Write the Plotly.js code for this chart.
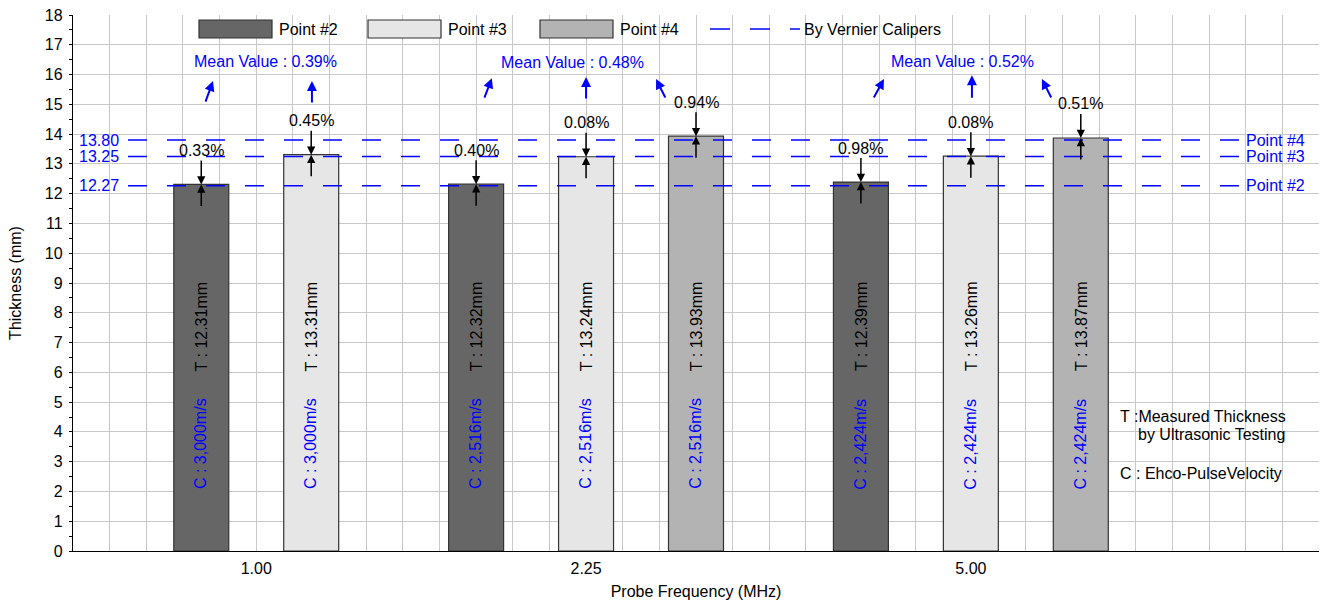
<!DOCTYPE html>
<html>
<head>
<meta charset="utf-8">
<script src="https://cdn.plot.ly/plotly-3.0.1.min.js"></script>
<style>html,body{margin:0;padding:0;background:#fff;}#chart{width:1325px;height:603px;}</style>
</head>
<body>
<div id="chart"></div>
<script>
// ---------------- DATA ----------------
const categories = ['1.00', '2.25', '5.00'];          // Probe frequency (MHz)
const seriesNames = ['Point #2', 'Point #3', 'Point #4'];
const point2 = [12.31, 12.32, 12.39];                 // measured thickness T (mm)
const point3 = [13.31, 13.24, 13.26];
const point4 = [null, 13.93, 13.87];
const dev2 = [0.33, 0.40, 0.98];                      // deviation from vernier (%)
const dev3 = [0.45, 0.08, 0.08];
const dev4 = [null, 0.94, 0.51];
const velocity = ['3,000', '2,516', '2,424'];         // echo-pulse velocity C (m/s)
const meanValues = [0.39, 0.48, 0.52];                // mean deviation (%)
const vernierValues = [12.27, 13.25, 13.80];          // by vernier calipers (mm)
const vernierNames = ['Point #2', 'Point #3', 'Point #4'];
const yTickLabels = ['0','1','2','3','4','5','6','7','8','9','10','11','12','13','14','15','16','17','18'];

// ---------------- LAYOUT / STYLE ----------------
const FONT = 'Liberation Sans, Arial, Helvetica, sans-serif';
const colors = ['#666666', '#e6e6e6', '#b3b3b3'];
const BLUE = '#0000ff';
const L = 73, R = 1319, T = 15, B = 551;
const X_MAX = 34;                     // x scale: grid units
const groupCenters = [5, 14, 24.5];
const barStep = 3, barWidth = 1.5;
const pxX = p => (p - L) / (R - L);
const pxY = p => (B - p) / (B - T);

const values = [point2, point3, point4];
const devs = [dev2, dev3, dev4];

// bar positions
const xs = values.map(() => categories.map(() => null));
categories.forEach((c, g) => {
  const present = values.map((v, s) => v[g] != null ? s : -1).filter(s => s >= 0);
  present.forEach((s, k) => {
    xs[s][g] = groupCenters[g] + (k - (present.length - 1) / 2) * barStep;
  });
});

const traces = [];
values.forEach((v, s) => {
  traces.push({
    type: 'bar', name: seriesNames[s],
    x: xs[s], y: v, width: barWidth,
    marker: {color: colors[s], line: {color: '#333333', width: 1.2}},
    showlegend: false, hoverinfo: 'skip'
  });
});
// vernier lines
vernierValues.forEach((v, i) => {
  traces.push({
    type: 'scatter', mode: 'lines', name: 'By Vernier Calipers',
    x: [1.5, 32.03], y: [v, v],
    line: {color: BLUE, width: 1.5, dash: '19px,20px'},
    showlegend: false, hoverinfo: 'skip'
  });
});
// dummy trace for the category axis
traces.push({type: 'scatter', x: [], y: [], xaxis: 'x2', yaxis: 'y', showlegend: false, hoverinfo: 'skip'});

const annotations = [];
const shapes = [];
const txt = (o) => Object.assign({showarrow: false, yanchor: 'middle', xanchor: 'center',
  font: {family: FONT, size: 16, color: '#000'}}, o);

// per-bar annotations
values.forEach((v, s) => {
  categories.forEach((c, g) => {
    if (v[g] == null) return;
    const x = xs[s][g];
    annotations.push({x: x, y: v[g], xref: 'x', yref: 'y', text: devs[s][g].toFixed(2) + '%',
      showarrow: true, ax: 0, ay: -34, arrowhead: 2, arrowsize: 1.1, arrowwidth: 1.5, arrowcolor: '#000',
      font: {family: FONT, size: 16, color: '#000'}});
    annotations.push({x: x, y: v[g], xref: 'x', yref: 'y', text: '',
      showarrow: true, ax: 0, ay: 23, arrowhead: 2, arrowsize: 1.1, arrowwidth: 1.5, arrowcolor: '#000'});
    annotations.push(txt({x: x, y: 7.55, xref: 'x', yref: 'y', text: 'T : ' + v[g].toFixed(2) + 'mm', textangle: -90}));
    annotations.push(txt({x: x, y: 3.6, xref: 'x', yref: 'y', text: 'C : ' + velocity[g] + 'm/s', textangle: -90,
      font: {family: FONT, size: 16, color: BLUE}}));
  });
});

// mean-value labels and arrows
const meanLabelPos = [[5.25, 16.45], [13.64, 16.42], [24.28, 16.45]];
const meanArrows = [
  [[3.82, 15.78, -8, 22], [6.52, 15.78, 0, 23]],
  [[11.43, 15.88, -8, 21], [14.0, 15.92, 0, 23], [15.91, 15.85, 10, 20]],
  [[22.13, 15.85, -11, 20], [24.53, 15.98, 0, 24], [26.44, 15.85, 10, 20]]
];
meanValues.forEach((m, g) => {
  annotations.push(txt({x: meanLabelPos[g][0], y: meanLabelPos[g][1], xref: 'x', yref: 'y',
    text: 'Mean Value : ' + m.toFixed(2) + '%', font: {family: FONT, size: 16, color: BLUE}}));
  meanArrows[g].forEach(a => {
    annotations.push({x: a[0], y: a[1], xref: 'x', yref: 'y', text: '', showarrow: true,
      ax: a[2], ay: a[3], arrowhead: 2, arrowsize: 1, arrowwidth: 2, arrowcolor: BLUE});
  });
});

// vernier labels
vernierValues.forEach((v, i) => {
  annotations.push(txt({x: pxX(77), y: v, xref: 'paper', yref: 'y', xanchor: 'left',
    text: v.toFixed(2), font: {family: FONT, size: 16, color: BLUE}}));
  annotations.push(txt({x: 31.95, y: v, xref: 'x', yref: 'y', xanchor: 'left',
    text: vernierNames[i], font: {family: FONT, size: 16, color: BLUE}}));
});

// notes
annotations.push(txt({x: pxX(1118), y: pxY(416), xref: 'paper', yref: 'paper', xanchor: 'left', text: 'T :Measured Thickness'}));
annotations.push(txt({x: pxX(1136), y: pxY(434), xref: 'paper', yref: 'paper', xanchor: 'left', text: 'by Ultrasonic Testing'}));
annotations.push(txt({x: pxX(1118), y: pxY(473), xref: 'paper', yref: 'paper', xanchor: 'left', text: 'C : Ehco-PulseVelocity'}));

// custom legend
const legendSwatchLeft = [199, 368, 540];
const swatchW = 73, legTop = 20, legBot = 38, legMid = 29;
seriesNames.forEach((n, s) => {
  const x0 = legendSwatchLeft[s];
  shapes.push({type: 'rect', xref: 'paper', yref: 'paper', x0: pxX(x0), x1: pxX(x0 + swatchW),
    y0: pxY(legBot), y1: pxY(legTop), fillcolor: colors[s], line: {color: '#333333', width: 1.2}});
  annotations.push(txt({x: pxX(x0 + swatchW + 5), y: pxY(legMid), xref: 'paper', yref: 'paper', xanchor: 'left', text: n}));
});
shapes.push({type: 'line', xref: 'paper', yref: 'paper', x0: pxX(710), x1: pxX(800), y0: pxY(legMid), y1: pxY(legMid),
  line: {color: BLUE, width: 1.5, dash: '20px,20px'}});
annotations.push(txt({x: pxX(802), y: pxY(legMid), xref: 'paper', yref: 'paper', xanchor: 'left', text: 'By Vernier Calipers'}));

const layout = {
  width: 1325, height: 603,
  margin: {l: L, r: 1325 - R, t: T, b: 603 - B, pad: 0},
  paper_bgcolor: '#fff', plot_bgcolor: '#fff',
  font: {family: FONT, size: 16, color: '#000'},
  showlegend: false,
  barmode: 'overlay',
  xaxis: {range: [0, X_MAX], tick0: 0, dtick: 1, showgrid: true, gridcolor: '#c8c8c8', gridwidth: 1,
    showticklabels: false, ticks: '', zeroline: false, showline: true, linecolor: '#000', linewidth: 1.2,
    fixedrange: true},
  xaxis2: {overlaying: 'x', side: 'bottom', range: [0, X_MAX], tickmode: 'array', tickvals: groupCenters,
    ticktext: categories, showgrid: false, zeroline: false, showline: false, ticks: '',
    ticklabelstandoff: 6, tickfont: {family: FONT, size: 16, color: '#000'},
    title: {text: 'Probe Frequency (MHz)', font: {family: FONT, size: 16, color: '#000'}, standoff: 9}},
  yaxis: {range: [0, 18], tickmode: 'array', tickvals: yTickLabels.map(Number), ticktext: yTickLabels,
    showgrid: true, gridcolor: '#c8c8c8', gridwidth: 1, zeroline: false,
    showline: true, linecolor: '#000', linewidth: 1.2, ticks: 'outside', ticklen: 3, tickcolor: '#000',
    ticklabelstandoff: 3,
    minor: {tickmode: 'linear', tick0: 0, dtick: 0.5, ticks: 'outside', ticklen: 3, tickcolor: '#000', showgrid: false},
    tickfont: {family: FONT, size: 16, color: '#000'},
    title: {text: 'Thickness (mm)', font: {family: FONT, size: 16, color: '#000'}, standoff: 19}},
  annotations: annotations,
  shapes: shapes
};

Plotly.newPlot('chart', traces, layout, {displayModeBar: false, staticPlot: true});
</script>
</body>
</html>
